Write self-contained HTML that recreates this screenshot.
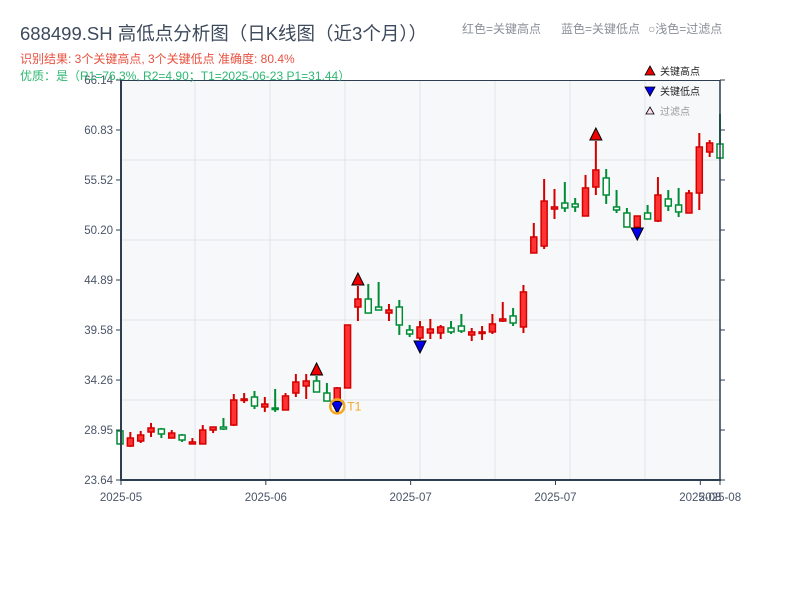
<!DOCTYPE html>
<html><head><meta charset="utf-8">
<style>
body{margin:0;background:#fff;width:800px;height:600px;overflow:hidden;font-family:"Liberation Sans","Noto Sans CJK SC",sans-serif;}
</style></head>
<body>
<svg id="chart" width="800" height="600" xmlns="http://www.w3.org/2000/svg" font-family="Liberation Sans, Noto Sans CJK SC, sans-serif">
<rect x="121" y="80" width="599" height="400" fill="#f7f8fa"/>
<g id="grid"></g>
<g id="candles"></g>
<g id="markers"></g>
<g id="axes"></g>
<text x="20" y="40" font-size="18.5" fill="#3d4a5c">688499.SH 高低点分析图（日K线图（近3个月））</text>
<text x="20" y="63" font-size="12" fill="#e8503f">识别结果: 3个关键高点, 3个关键低点  准确度: 80.4%</text>
<text x="20" y="80" font-size="12" fill="#2eb872">优质：是（R1=76.3%, R2=4.90；T1=2025-06-23 P1=31.44）</text>
<text x="462" y="33" font-size="12" fill="#8a8f98">红色=关键高点</text>
<text x="561" y="33" font-size="12" fill="#8a8f98">蓝色=关键低点</text>
<text x="648" y="33" font-size="12" fill="#8a8f98">○浅色=过滤点</text>
<g>
<polygon points="650,66 655,75 645,75" fill="#ee0000" stroke="#000" stroke-width="0.8"/>
<text x="660" y="75" font-size="10" fill="#222">关键高点</text>
<polygon points="645,87 655,87 650,96" fill="#0000ee" stroke="#000" stroke-width="0.8"/>
<text x="660" y="95" font-size="10" fill="#222">关键低点</text>
<polygon points="650,107 654,114 646,114" fill="#fde" stroke="#000" stroke-width="0.8"/>
<text x="660" y="115" font-size="10" fill="#999">过滤点</text>
</g>
</svg>
<script>
const opens=[28.85,27.25,27.78,28.74,29.06,28.10,28.42,27.47,27.47,28.95,29.27,29.48,32.14,32.46,31.40,31.29,31.08,32.88,33.63,34.16,32.88,32.14,33.42,42.02,42.87,42.02,41.38,42.02,39.58,38.73,39.26,39.26,39.79,40.00,39.05,39.26,39.37,40.53,41.07,39.90,47.76,48.50,52.43,53.07,52.97,51.69,54.77,55.73,52.65,52.01,50.52,52.01,51.16,53.50,52.86,52.01,54.13,58.49,59.34];
const highs=[28.85,28.74,28.85,29.70,29.17,28.95,28.53,28.10,29.48,29.27,30.23,32.78,32.88,33.10,32.46,33.31,32.88,34.90,34.90,34.69,33.95,33.52,40.11,44.25,44.47,44.68,42.34,42.77,40.11,40.53,40.75,40.11,40.53,41.28,39.79,40.00,41.28,42.55,41.92,44.36,50.95,55.62,54.56,55.30,53.60,56.05,59.66,56.68,54.45,52.54,51.69,52.86,55.83,54.45,54.67,54.45,60.51,59.76,62.53];
const lows=[27.47,27.15,27.57,28.21,28.10,28.10,27.68,27.47,27.47,28.63,28.95,29.38,31.82,31.18,30.87,30.87,31.08,32.46,32.25,32.99,32.03,32.10,33.42,40.53,41.38,41.70,40.53,39.05,38.83,38.52,38.62,38.62,39.15,39.26,38.41,38.52,39.15,40.43,40.00,39.26,47.76,48.18,51.37,52.12,52.12,51.69,53.92,52.97,52.01,50.52,50.52,51.37,51.05,52.22,51.58,52.01,52.33,57.96,57.85];
const closes=[27.47,28.10,28.42,29.17,28.53,28.63,27.89,27.68,28.95,29.27,29.06,32.14,32.25,31.50,31.71,31.18,32.57,34.05,34.16,32.99,32.03,33.42,40.11,42.87,41.38,41.70,41.70,40.11,39.15,39.90,39.68,39.90,39.37,39.47,39.37,39.37,40.22,40.75,40.32,43.62,49.46,53.28,52.65,52.54,52.65,54.67,56.58,53.92,52.33,50.52,51.69,51.37,53.92,52.75,52.12,54.13,59.02,59.45,57.85];
const keyHighIdx=[19,23,46];
const keyLowIdx=[21,29,50];
const yTicks=[23.64,28.95,34.26,39.58,44.89,50.20,55.52,60.83,66.14];
const xTickLabels=["2025-05","2025-06","2025-07","2025-07","2025-08","2025-08"];
const xTickIdx=[0,14,28,42,56,58];

const NS="http://www.w3.org/2000/svg";
const X0=120,X1=720,Y0=480,Y1=80,PMIN=23.64,PMAX=66.14;
const n=opens.length;
function xs(i){return X0+(X1-X0)*i/(n-1);}
function ys(p){return Y0-(p-PMIN)/(PMAX-PMIN)*(Y0-Y1);}
function mk(tag,attrs,parent){const e=document.createElementNS(NS,tag);for(const k in attrs)e.setAttribute(k,attrs[k]);parent.appendChild(e);return e;}
const grid=document.getElementById('grid'),cg=document.getElementById('candles'),mg=document.getElementById('markers'),ag=document.getElementById('axes');
for(let k=1;k<=4;k++){const l=mk('line',{x1:121,x2:720,y1:80+80*k,y2:80+80*k,stroke:'#e1e4e8','stroke-width':1},grid);

}
for(let k=1;k<=7;k++){const x=120+75*k;const l=mk('line',{x1:x,x2:x,y1:80,y2:480,stroke:'#e1e4e8','stroke-width':1},grid);

}
for(let i=0;i<n;i++){
  const up=closes[i]>=opens[i];const x=xs(i);
  const col=up?'#d40000':'#008c35';
  const g=mk('g',{},cg);
  
  
  mk('line',{x1:x,x2:x,y1:ys(highs[i]),y2:ys(lows[i]),stroke:col,'stroke-width':2},g);
  const t=ys(Math.max(opens[i],closes[i])),b=ys(Math.min(opens[i],closes[i]));
  mk('rect',{x:x-3,y:t,width:6,height:Math.max(b-t,1.5),fill:up?'#ff3333':'#fff',stroke:col,'stroke-width':1.5},g);
}
keyHighIdx.forEach(i=>{const x=xs(i),y=ys(highs[i]);
  const p=mk('polygon',{points:`${x},${y-13} ${x+6},${y-1} ${x-6},${y-1}`,fill:'#ee0000',stroke:'#000','stroke-width':1},mg);
  
  });
keyLowIdx.forEach(i=>{const x=xs(i),y=ys(lows[i]);
  const p=mk('polygon',{points:`${x-6},${y+1} ${x+6},${y+1} ${x},${y+13}`,fill:'#0000ee',stroke:'#000','stroke-width':1},mg);
  
  });
{const i=keyLowIdx[0];const x=xs(i),y=ys(lows[i])+6;
 const c=mk('circle',{cx:x,cy:y,r:7,fill:'none',stroke:'#f5a623','stroke-width':2.5},mg);
 
 
 const t=mk('text',{x:x+10,y:y+4,'font-size':12,fill:'#f5a623'},mg);t.textContent='T1';
 
 }
mk('line',{x1:121,x2:121,y1:80,y2:481,stroke:'#2c3e50','stroke-width':2},ag);
mk('line',{x1:720,x2:720,y1:80,y2:481,stroke:'#2c3e50','stroke-width':1.5},ag);
mk('line',{x1:121,x2:720,y1:80.5,y2:80.5,stroke:'#2c3e50','stroke-width':1},ag);
mk('line',{x1:120,x2:721,y1:480,y2:480,stroke:'#2c3e50','stroke-width':2},ag);
yTicks.forEach(v=>{const y=ys(v);
  mk('line',{x1:116,x2:121,y1:y,y2:y,stroke:'#2c3e50','stroke-width':1},ag);
  mk('line',{x1:720,x2:725,y1:y,y2:y,stroke:'#2c3e50','stroke-width':1},ag);
  const t=mk('text',{x:113,y:y+4,'font-size':11.5,fill:'#4a5568','text-anchor':'end'},ag);t.textContent=v.toFixed(2);
  
  });
xTickIdx.forEach((i,k)=>{const x=k==xTickIdx.length-1?xs(i):xs(i)+1;
  mk('line',{x1:x,x2:x,y1:480,y2:485,stroke:'#2c3e50','stroke-width':1},ag);
  const t=mk('text',{x:x,y:501,'font-size':11.5,fill:'#4a5568','text-anchor':'middle'},ag);t.textContent=xTickLabels[k];
  
  });
</script>
</body></html>
